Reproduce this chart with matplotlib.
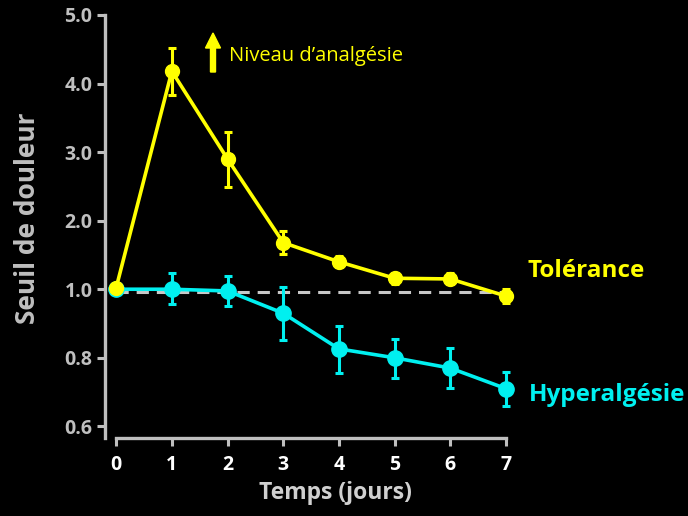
import numpy as np
import matplotlib
matplotlib.use('Agg')
import matplotlib.pyplot as plt

days = [0, 1, 2, 3, 4, 5, 6, 7]
tolerance = [1.02, 4.18, 2.90, 1.68, 1.40, 1.16, 1.15, 0.98]
tol_low = [0.0, 0.34, 0.41, 0.16, 0.08, 0.08, 0.08, 0.02]
tol_high = [0.0, 0.34, 0.40, 0.17, 0.08, 0.08, 0.08, 0.02]
hyper = [1.00, 1.00, 0.995, 0.93, 0.826, 0.80, 0.77, 0.71]
hyp_low = [0.0, 0.042, 0.043, 0.078, 0.07, 0.058, 0.058, 0.05]
hyp_high = [0.0, 0.24, 0.20, 0.10, 0.068, 0.056, 0.058, 0.048]
baseline = 0.992
yticks = [0.6, 0.8, 1.0, 2.0, 3.0, 4.0, 5.0]

YELLOW = '#FFFF00'
CYAN = '#00F0F0'
GREY = '#BFBFBF'


def fwd(y):
    y = np.asarray(y, dtype=float)
    return np.where(y >= 1, y - 1, (y - 1) / 0.2)


def inv(t):
    t = np.asarray(t, dtype=float)
    return np.where(t >= 0, t + 1, 1 + 0.2 * t)


plt.rcParams['font.family'] = ['Open Sans', 'DejaVu Sans']
fig = plt.figure(figsize=(6.88, 5.16), dpi=100, facecolor='black')
ax = fig.add_axes([105 / 688, (516 - 438) / 516, (506 - 105) / 688, (438 - 15) / 516])
ax.set_facecolor('black')
ax.set_yscale('function', functions=(fwd, inv))
ax.set_ylim(0.566, 5.0)
ax.set_xlim(-0.2, 7.0)

ax.hlines(baseline, 0, 7.1, colors='#C8C8C8', linestyles=(0, (4, 2.6)), linewidth=2.2, zorder=1, clip_on=False)

ax.errorbar(days, hyper, yerr=[hyp_low, hyp_high], color=CYAN, marker='o', markersize=11,
            linewidth=2.6, elinewidth=2.2, capsize=3.2, capthick=2.2, zorder=3, clip_on=False)
ax.errorbar(days, tolerance, yerr=[tol_low, tol_high], color=YELLOW, marker='o', markersize=10,
            linewidth=2.6, elinewidth=2.2, capsize=3.2, capthick=2.2, zorder=4, clip_on=False)

for s in ['top', 'right']:
    ax.spines[s].set_visible(False)
for s in ['left', 'bottom']:
    ax.spines[s].set_color(GREY)
    ax.spines[s].set_linewidth(2.4)
ax.spines['bottom'].set_bounds(0, 7)

ax.set_yticks(yticks)
ax.set_yticklabels(['%.1f' % v for v in yticks])
ax.set_xticks(days)
ax.tick_params(axis='y', colors=GREY, length=6, width=2.2, labelsize=14, pad=3)
ax.tick_params(axis='x', colors=GREY, length=6, width=2.2, labelsize=14, labelcolor='white', pad=6)
for lab in ax.get_xticklabels() + ax.get_yticklabels():
    lab.set_fontweight('bold')

ax.set_ylabel('Seuil de douleur', color=GREY, fontsize=19, fontweight='bold')
ax.yaxis.set_label_coords(-0.16, 0.52)
ax.set_xlabel('Temps (jours)', color='#D0D0D0', fontsize=16.5, fontweight='bold')
ax.xaxis.set_label_coords((335 - 105) / 401, -0.102)

fig.text(528 / 688, 1 - 271 / 516, 'Tolérance', color=YELLOW, fontsize=17.5, fontweight='bold', va='center', ha='left')
fig.text(529 / 688, 1 - 395 / 516, 'Hyperalgésie', color=CYAN, fontsize=17.5, fontweight='bold', va='center', ha='left')
fig.text(229 / 688, 1 - 56 / 516, 'Niveau d\u2019analgésie', color=YELLOW, fontsize=14.5, va='center', ha='left')
fig.patches.append(matplotlib.patches.FancyArrow(213 / 688, 1 - 72 / 516, 0, 39 / 516, width=5 / 688,
                                                 head_width=15 / 688, head_length=15 / 516,
                                                 length_includes_head=True, color=YELLOW,
                                                 transform=fig.transFigure, figure=fig))

fig.savefig('out.png', dpi=100, facecolor='black')
